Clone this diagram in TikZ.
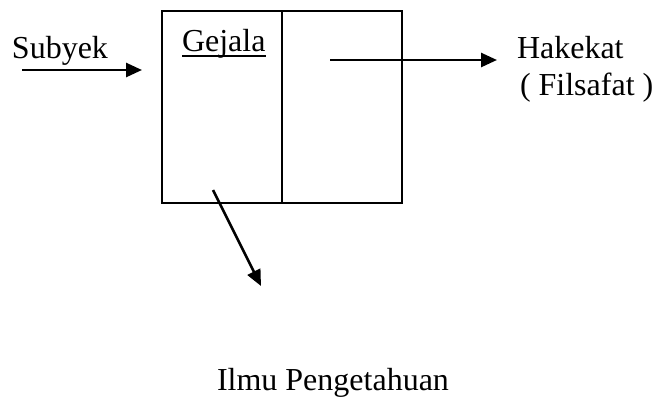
\documentclass[tikz,border=0pt]{standalone}
\usepackage{fontspec}
\setmainfont{Liberation Serif}
\usetikzlibrary{arrows.meta}
\begin{document}
\begin{tikzpicture}[x=1pt,y=-1pt,
  lbl/.style={inner sep=0pt,outer sep=0pt,anchor=base west,font=\fontsize{32}{36}\selectfont},
  cell/.style={draw,line width=1.8pt,minimum width=120pt,minimum height=192pt,inner sep=0pt,outer sep=0pt,anchor=north west},
  flow/.style={line width=2.6pt,-{Triangle[length=16pt,width=14pt]}}]
\useasboundingbox (0,0) rectangle (656,397);
% two-part box
\node[cell] (left) at (162,11) {};
\node[cell] (right) at (282,11) {};
% labels
\node[lbl] (subyek) at (12,58) {Subyek};
\node[lbl] (gejala) at (182,51) {Gejala};
\node[lbl] (hakekat) at (517,58) {Hakekat};
\node[lbl] (filsafat) at (520,95) {( Filsafat )};
\node[lbl] (ilmu) at (217,390) {Ilmu Pengetahuan};
\draw[line width=1.6pt] ([yshift=-5pt]gejala.base west) -- ([yshift=-5pt]gejala.base east);
% arrow end points
\coordinate (s0) at (22,70);
\coordinate (s1) at (142,70);
\coordinate (h0) at (330,60);
\coordinate (h1) at (497,60);
\coordinate (d0) at (213,190);
\coordinate (d1) at (261,286);
\draw[flow] (s0) -- (s1);
\draw[flow] (h0) -- (h1);
\draw[flow] (d0) -- (d1);
\end{tikzpicture}
\end{document}
